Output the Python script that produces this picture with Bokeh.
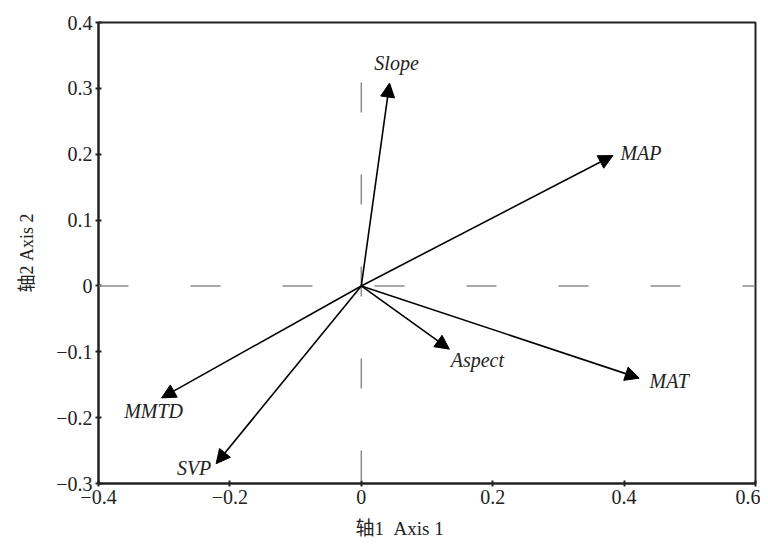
from bokeh.plotting import figure
from bokeh.models import ColumnDataSource, Arrow, NormalHead, Span, FixedTicker, Title
from bokeh.core.properties import value
from bokeh.embed import file_html
from bokeh.resources import INLINE

# ---- data ----
variables = ["Slope", "MAP", "Aspect", "MAT", "MMTD", "SVP"]
axis1 = [0.043, 0.383, 0.134, 0.423, -0.304, -0.221]
axis2 = [0.308, 0.198, -0.096, -0.140, -0.170, -0.270]
x_ticks = [-0.4, -0.2, 0.0, 0.2, 0.4, 0.6]
x_tick_labels = ["\u22120.4", "\u22120.2", "0", "0.2", "0.4", "0.6"]
y_ticks = [-0.3, -0.2, -0.1, 0.0, 0.1, 0.2, 0.3, 0.4]
y_tick_labels = ["\u22120.3", "\u22120.2", "\u22120.1", "0", "0.1", "0.2", "0.3", "0.4"]
x_title = "轴1\u00a0\u00a0Axis 1"
y_title = "轴2 Axis 2"

# label offsets (pixels) relative to arrow tips
lab_dx = [7, 28, 28, 30, -8, -22]
lab_dy = [-20, -3, 11, 3, 13, 4]

FONT = "Liberation Serif, Noto Sans CJK SC"

src = ColumnDataSource(dict(
    x0=[0.0] * len(variables), y0=[0.0] * len(variables),
    x=axis1, y=axis2, name=variables, dx=lab_dx, dy=lab_dy,
))

p = figure(width=760, height=548, output_backend="svg", toolbar_location=None,
           x_range=(-0.4, 0.6), y_range=(-0.3, 0.4),
           min_border_left=98, min_border_right=5, min_border_top=22, min_border_bottom=0)
p.background_fill_color = "white"
p.border_fill_color = "white"
p.outline_line_color = "#222222"
p.outline_line_width = 2
p.xgrid.visible = False
p.ygrid.visible = False

# reference dashed lines
p.add_layout(Span(location=0, dimension="width", line_color="#8c8c8c", line_width=1.5,
                  line_dash="30 62"))
p.add_layout(Span(location=0, dimension="height", line_color="#8c8c8c", line_width=1.5,
                  line_dash="30 62", line_dash_offset=32))

# arrows
p.add_layout(Arrow(end=NormalHead(size=14, fill_color="black", line_color="black", line_width=1),
                   x_start="x0", y_start="y0", x_end="x", y_end="y", source=src,
                   line_color="black", line_width=1.6))

p.text(x="x", y="y", text="name", x_offset="dx", y_offset="dy", source=src,
       text_font=value("Liberation Serif"), text_font_style="italic",
       text_font_size="20px", text_align="center", text_baseline="middle", text_color="#222222")

for ax, ticks, labels in ((p.xaxis, x_ticks, x_tick_labels), (p.yaxis, y_ticks, y_tick_labels)):
    ax.ticker = FixedTicker(ticks=ticks)
    ax.major_label_overrides = {t: l for t, l in zip(ticks, labels)}
    ax.minor_tick_line_color = None
    ax.major_tick_in = 3
    ax.major_tick_out = 3
    ax.major_tick_line_width = 2
    ax.major_tick_line_color = "#222222"
    ax.axis_line_width = 2
    ax.axis_line_color = "#222222"
    ax.major_label_text_font = FONT
    ax.major_label_text_font_size = "20px"
    ax.major_label_text_color = "#222222"
    ax.axis_label_text_font = FONT
    ax.axis_label_text_font_size = "18px"
    ax.axis_label_text_font_style = "normal"
    ax.axis_label_text_color = "#222222"

p.yaxis.axis_label = y_title
p.yaxis.axis_label_standoff = 16
p.xaxis.major_label_standoff = 3
p.yaxis.major_label_standoff = 3

# x-axis title as a bottom title, placed slightly left of centre as in the reference
p.add_layout(Title(text=x_title, align="left", offset=257, standoff=19,
                   text_font=FONT, text_font_size="19px", text_font_style="normal",
                   text_color="#222222"), "below")

open("out.html", "w").write(file_html(p, INLINE))
